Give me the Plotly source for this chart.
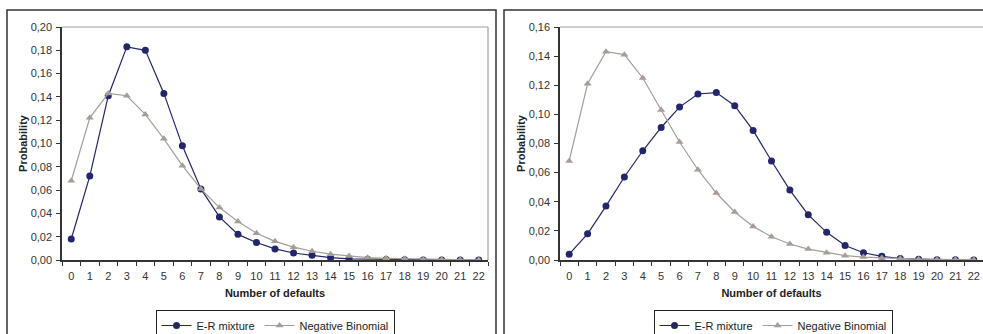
import plotly.graph_objects as go

categories = [str(i) for i in range(23)]

er_left = [0.018, 0.072, 0.141, 0.183, 0.180, 0.143, 0.098, 0.061, 0.037, 0.022, 0.015,
           0.0095, 0.006, 0.004, 0.002, 0.001, 0.0007, 0.0004, 0.0002, 0.0001, 0.00005, 0.00002, 0.00001]
nb_left = [0.068, 0.122, 0.143, 0.141, 0.125, 0.104, 0.081, 0.061, 0.045, 0.033, 0.023,
           0.016, 0.011, 0.0075, 0.005, 0.0035, 0.002, 0.0014, 0.001, 0.0006, 0.0004, 0.0003, 0.0002]

er_right = [0.004, 0.018, 0.037, 0.057, 0.075, 0.091, 0.105, 0.114, 0.115, 0.106, 0.089,
            0.068, 0.048, 0.031, 0.019, 0.010, 0.005, 0.0025, 0.001, 0.0005, 0.0002, 0.0001, 0.00005]
nb_right = [0.068, 0.121, 0.143, 0.141, 0.125, 0.103, 0.081, 0.062, 0.046, 0.033, 0.023,
            0.016, 0.011, 0.0075, 0.005, 0.003, 0.002, 0.0014, 0.001, 0.0006, 0.0004, 0.0003, 0.0002]

W, H = 983, 334
NAVY = "#23266a"
TAUPE = "#a69d98"
FONT = "Liberation Sans, Arial, sans-serif"

def px(x):
    return x / W

def py(y):
    return 1 - y / H

fig = go.Figure()

def add_pair(er, nb, xa, ya, legend):
    fig.add_trace(go.Scatter(x=categories, y=er, name="E-R mixture", mode="lines+markers",
                             line=dict(color=NAVY, width=1.2),
                             marker=dict(symbol="circle", size=7, color=NAVY),
                             xaxis=xa, yaxis=ya, legend=legend))
    fig.add_trace(go.Scatter(x=categories, y=nb, name="Negative Binomial", mode="lines+markers",
                             line=dict(color=TAUPE, width=1.2),
                             marker=dict(symbol="triangle-up", size=7, color=TAUPE),
                             xaxis=xa, yaxis=ya, legend=legend))

add_pair(er_left, nb_left, "x", "y", "legend")
add_pair(er_right, nb_right, "x2", "y2", "legend2")

ydom = [py(260), py(27)]
xaxis_common = dict(type="category", tickson="boundaries", ticks="outside", ticklen=4,
                    tickcolor="#333333", showline=True, linecolor="#333333", linewidth=1.5,
                    showgrid=False, zeroline=False, range=[-0.5, 22.5], tickangle=0,
                    ticklabelstandoff=5, ticklabeloverflow="allow", automargin=False,
                    tickfont=dict(family=FONT, size=11, color="#333333"),
                    title=dict(text="<b>Number of defaults</b>", standoff=8,
                               font=dict(family=FONT, size=11, color="#222222")))
yaxis_common = dict(ticks="outside", ticklen=4, tickcolor="#333333", showline=True,
                    linecolor="#333333", linewidth=1.5, showgrid=False, zeroline=False,
                    tickformat=".2f", ticklabelstandoff=2, automargin=False,
                    tickfont=dict(family=FONT, size=11, color="#333333"),
                    title=dict(text="<b>Probability</b>", standoff=1,
                               font=dict(family=FONT, size=11, color="#222222")))

fig.update_layout(
    width=W, height=H, margin=dict(l=0, r=0, t=0, b=0, autoexpand=False),
    paper_bgcolor="white", plot_bgcolor="white",
    separators=",.",
    xaxis=dict(domain=[px(62), px(488)], anchor="y", **xaxis_common),
    yaxis=dict(domain=ydom, anchor="x", range=[0, 0.20], dtick=0.02, **yaxis_common),
    xaxis2=dict(domain=[px(560), px(983)], anchor="y2", **xaxis_common),
    yaxis2=dict(domain=ydom, anchor="x2", range=[0, 0.16], dtick=0.02, **yaxis_common),
    legend=dict(orientation="h", x=px(275), xanchor="center", y=py(310), yanchor="top",
                bordercolor="#222222", borderwidth=1, bgcolor="white",
                font=dict(family=FONT, size=11, color="#222222"),
                itemwidth=30, tracegroupgap=0),
    legend2=dict(orientation="h", x=px(773), xanchor="center", y=py(310), yanchor="top",
                 bordercolor="#222222", borderwidth=1, bgcolor="white",
                 font=dict(family=FONT, size=11, color="#222222"),
                 itemwidth=30, tracegroupgap=0),
    showlegend=True,
)

shapes = [
    dict(type="rect", xref="paper", yref="paper", x0=px(7), x1=px(496), y0=-0.05, y1=py(10),
         line=dict(color="#333333", width=1.5)),
    dict(type="rect", xref="paper", yref="paper", x0=px(504), x1=1.05, y0=-0.05, y1=py(10),
         line=dict(color="#333333", width=1.5)),
    dict(type="line", xref="paper", yref="paper", x0=px(62), x1=px(488), y0=py(27), y1=py(27),
         line=dict(color="#a0a0a0", width=1.2)),
    dict(type="line", xref="paper", yref="paper", x0=px(488), x1=px(488), y0=py(27), y1=py(260),
         line=dict(color="#a0a0a0", width=1.2)),
    dict(type="line", xref="paper", yref="paper", x0=px(560), x1=1.0, y0=py(27), y1=py(27),
         line=dict(color="#a0a0a0", width=1.2)),
]
fig.update_layout(shapes=shapes)

fig.write_html("out.html", config={"displayModeBar": False},
               post_script="document.body.style.margin='0';document.body.style.overflow='hidden';")
